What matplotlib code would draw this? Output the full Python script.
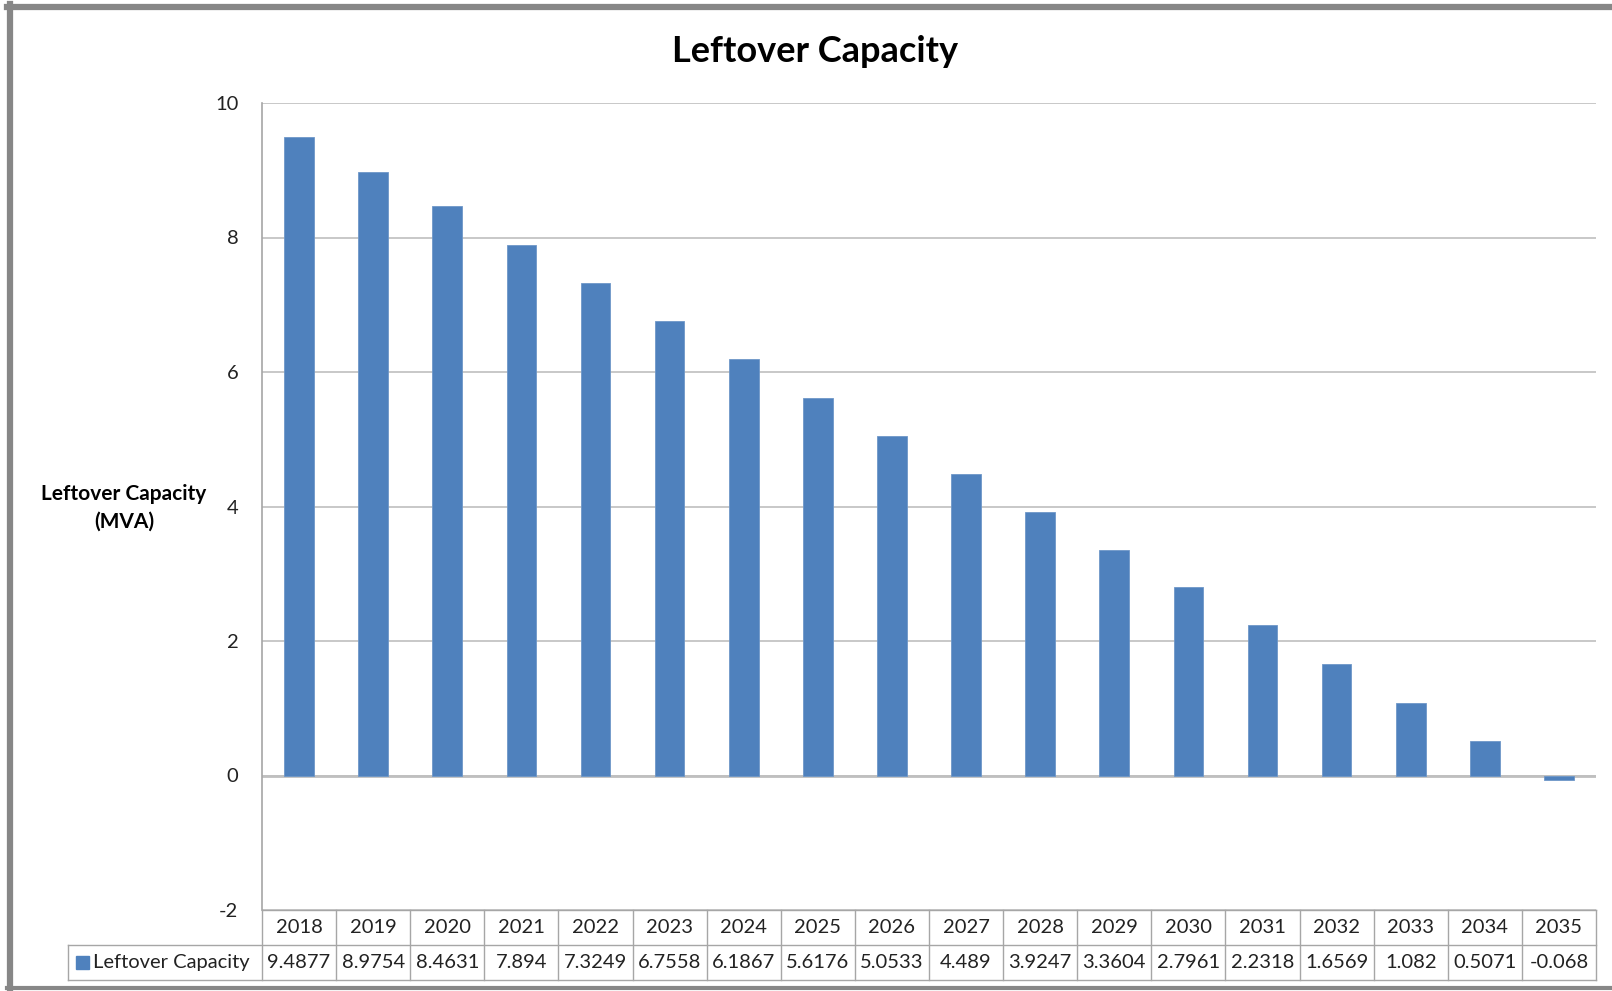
import matplotlib.pyplot as plt
from matplotlib.patches import Rectangle
from matplotlib.lines import Line2D
import matplotlib.transforms as mtransforms

plt.rcParams['font.family'] = ['Lato', 'DejaVu Sans']
plt.rcParams['axes.unicode_minus'] = False

years = ['2018', '2019', '2020', '2021', '2022', '2023', '2024', '2025', '2026',
         '2027', '2028', '2029', '2030', '2031', '2032', '2033', '2034', '2035']
capacity = [9.4877, 8.9754, 8.4631, 7.894, 7.3249, 6.7558, 6.1867, 5.6176, 5.0533,
            4.489, 3.9247, 3.3604, 2.7961, 2.2318, 1.6569, 1.082, 0.5071, -0.068]
capacity_labels = ['9.4877', '8.9754', '8.4631', '7.894', '7.3249', '6.7558', '6.1867',
                   '5.6176', '5.0533', '4.489', '3.9247', '3.3604', '2.7961', '2.2318',
                   '1.6569', '1.082', '0.5071', '-0.068']
series_name = 'Leftover Capacity'

W, H = 1612, 991
bar_color = '#4F81BD'
grid_color = '#BFBFBF'
line_color = '#A6A6A6'
txt = '#222222'
fs = 14.5

fig = plt.figure(figsize=(W / 100, H / 100), dpi=100)
ax = fig.add_axes([262 / W, 1 - 910 / H, (1596 - 262) / W, (910 - 103) / H])

x = list(range(len(years)))
ax.bar(x, capacity, width=0.4, color=bar_color, edgecolor='#6E97C8', linewidth=0.6, zorder=3)
ax.set_xlim(-0.5, len(years) - 0.5)
ax.set_ylim(-2, 10)
ax.set_yticks([-2, 0, 2, 4, 6, 8, 10])
ax.set_xticks([])
ax.tick_params(axis='y', length=0, pad=17, labelsize=fs, labelcolor=txt)
ax.grid(axis='y', color=grid_color, linewidth=1.2, zorder=0)
for s in ['top', 'right', 'bottom']:
    ax.spines[s].set_visible(False)
ax.spines['left'].set_color(line_color)
ax.spines['left'].set_linewidth(1.2)
ax.axhline(0, color=grid_color, linewidth=2, zorder=2)

ax.set_title('Leftover Capacity', fontsize=26, fontweight='bold', pad=29.5, x=0.4145)
fig.text(124 / W, 1 - 508 / H, 'Leftover Capacity\n(MVA)', ha='center', va='center',
         fontsize=15, fontweight='bold', linespacing=1.45)

# data table below the axis
row_h = 35 / (910 - 103)
trans = mtransforms.blended_transform_factory(ax.transData, ax.transAxes)
px = 1 / (1596 - 262)
legend_left = (68 - 262) * px
lkw = dict(color=line_color, linewidth=1.0, clip_on=False)
ax.add_line(Line2D([-0.5, len(years) - 0.5], [0, 0], transform=trans, **lkw))
ax.add_line(Line2D([legend_left, 1], [-row_h, -row_h], transform=ax.transAxes, **lkw))
ax.add_line(Line2D([legend_left, 1], [-2 * row_h, -2 * row_h], transform=ax.transAxes, **lkw))
ax.add_line(Line2D([legend_left, legend_left], [-row_h, -2 * row_h], transform=ax.transAxes, **lkw))
for i in range(len(years) + 1):
    ax.add_line(Line2D([i - 0.5, i - 0.5], [0, -2 * row_h], transform=trans, **lkw))
for i, (yr, lab) in enumerate(zip(years, capacity_labels)):
    ax.text(i, -0.5 * row_h, yr, transform=trans, ha='center', va='center', fontsize=fs,
            color=txt)
    ax.text(i, -1.5 * row_h, lab, transform=trans, ha='center', va='center', fontsize=fs,
            color=txt)
sq = 13
ax.add_patch(Rectangle((legend_left + 8 * px, -1.5 * row_h - sq / 2 / 807), sq * px, sq / 807,
                       transform=ax.transAxes, color=bar_color, clip_on=False))
ax.text(legend_left + 25 * px, -1.5 * row_h, series_name, transform=ax.transAxes,
        ha='left', va='center', fontsize=fs, color=txt)

# outer chart frame
fig.add_artist(Line2D([10 / W, 10 / W], [1 - 4 / H, 1 - 988 / H], color='#878787',
                      linewidth=4.5, transform=fig.transFigure))
fig.add_artist(Line2D([7 / W, 1], [1 - 7 / H, 1 - 7 / H], color='#878787',
                      linewidth=4.5, transform=fig.transFigure))
fig.add_artist(Line2D([7 / W, 1], [1 - 988 / H, 1 - 988 / H], color='#878787',
                      linewidth=3, transform=fig.transFigure))

fig.savefig('out.png', dpi=100)
